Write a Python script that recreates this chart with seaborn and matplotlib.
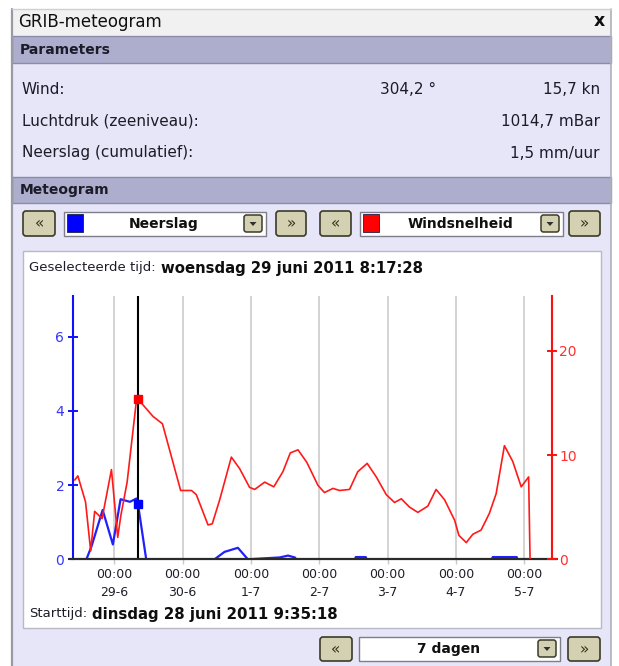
import matplotlib
matplotlib.use("Agg")
import matplotlib.pyplot as plt
from matplotlib.patches import Rectangle, FancyBboxPatch, Polygon
import seaborn as sns

# ---------------- data ----------------
wind_hours = [0.5, 1.6, 4.3, 6.1, 7.5, 10.1, 13.4, 15.6, 16.7, 18.9, 22.2, 22.7,
              24.5, 28.0, 31.3, 37.7, 41.5, 43.2, 47.3, 48.8, 51.4, 55.5, 58.4,
              61.9, 63.7, 67.2, 70.4, 73.6, 76.2, 78.9, 82.0, 85.9, 88.2, 91.2,
              93.5, 97.0, 99.9, 103.2, 106.4, 109.9, 112.8, 115.2, 118.1, 121.0,
              124.5, 127.4, 130.4, 133.9, 135.4, 138.0, 140.3, 143.2, 146.1,
              148.5, 151.4, 154.3, 157.3, 159.9, 160.4]
wind_kn = [7.6, 8.0, 5.5, 0.8, 4.6, 3.9, 8.6, 2.1, 4.2, 7.4, 15.3, 15.4,
           14.8, 13.7, 13.0, 6.6, 6.6, 6.2, 3.3, 3.4, 5.7, 9.8, 8.7,
           6.9, 6.7, 7.4, 6.95, 8.4, 10.2, 10.5, 9.3, 7.1, 6.4, 6.8,
           6.6, 6.7, 8.4, 9.2, 7.9, 6.2, 5.45, 5.8, 5.0, 4.5,
           5.1, 6.7, 5.7, 3.75, 2.3, 1.6, 2.4, 2.8, 4.4,
           6.3, 10.9, 9.4, 6.95, 7.9, 0.0]

precip_hours = [0.0, 4.6, 6.4, 10.3, 13.9, 16.6, 19.9, 22.2, 22.7, 25.6,
                49.6, 53.1, 57.8, 61.3, 72.5, 75.4, 77.8, 78.3,
                98.9, 99.2, 102.7, 103.0, 147.0, 147.3, 155.7, 156.0, 160.4]
precip_mm = [0.0, 0.0, 0.35, 1.33, 0.4, 1.62, 1.55, 1.64, 1.5, 0.0,
             0.0, 0.2, 0.31, 0.0, 0.05, 0.1, 0.05, 0.0,
             0.0, 0.06, 0.06, 0.0, 0.0, 0.06, 0.06, 0.0, 0.0]

day_tick_hours = [14.4, 38.4, 62.4, 86.4, 110.4, 134.4, 158.4]
tick_times = ["00:00", "00:00", "00:00", "00:00", "00:00", "00:00", "00:00"]
tick_dates = ["29-6", "30-6", "1-7", "2-7", "3-7", "4-7", "5-7"]
left_ticks = [0, 2, 4, 6]
right_ticks = [0, 10, 20]

selected_hour = 22.7
selected_wind = 15.4
selected_precip = 1.5

param_labels = ["Wind:", "Luchtdruk (zeeniveau):", "Neerslag (cumulatief):"]
param_mid = ["304,2 °", "", ""]
param_values = ["15,7 kn", "1014,7 mBar", "1,5 mm/uur"]

# ---------------- style ----------------
sns.set_style("white")
plt.rcParams["font.family"] = ["DejaVu Sans"]

W, H = 619, 666
fig = plt.figure(figsize=(W / 100, H / 100), dpi=100)
fig.patch.set_facecolor("white")

bg = fig.add_axes([0, 0, 1, 1])
bg.set_xlim(0, W)
bg.set_ylim(H, 0)
bg.axis("off")

LAV = "#E6E6F8"
HEAD = "#ADADCD"
HEAD_EDGE = "#8C8CAA"
TXT = "#1C1C28"


def rect(x0, y0, x1, y1, fc, ec="none", lw=0, z=1):
    bg.add_patch(Rectangle((x0, y0), x1 - x0, y1 - y0, facecolor=fc,
                           edgecolor=ec, linewidth=lw, zorder=z))


def button(x0, y0, x1, y1, glyph):
    bg.add_patch(FancyBboxPatch((x0, y0), x1 - x0, y1 - y0,
                                boxstyle="round,pad=0,rounding_size=3",
                                fc="#D3D1B1", ec="#3A3A2A", lw=1.2, zorder=3))
    bg.text((x0 + x1) / 2, (y0 + y1) / 2 + 0.5, glyph, ha="center", va="center",
            fontsize=11, color="#34341E", zorder=4)


def dropdown(x0, y0, x1, y1):
    bg.add_patch(FancyBboxPatch((x0, y0), x1 - x0, y1 - y0,
                                boxstyle="round,pad=0,rounding_size=2.5",
                                fc="#D3D1B1", ec="#3A3A2A", lw=1.1, zorder=4))
    cx, cy = (x0 + x1) / 2, (y0 + y1) / 2
    bg.add_patch(Polygon([[cx - 3.5, cy - 1.5], [cx + 3.5, cy - 1.5], [cx, cy + 2.5]],
                         closed=True, fc="#303030", ec="none", zorder=5))


def combo(x0, y0, x1, y1, label, swatch=None):
    rect(x0, y0, x1, y1, "white", ec="#7E7E8A", lw=1, z=3)
    left = x0
    if swatch is not None:
        rect(x0 + 3, y0 + 2, x0 + 19, y0 + 20, swatch, ec="#20204A", lw=0.6, z=4)
        left = x0 + 19
    dd0 = x1 - 22
    dropdown(dd0, y0 + 3, x1 - 4, y1 - 4)
    bg.text((left + dd0) / 2, (y0 + y1) / 2, label, ha="center", va="center",
            fontsize=10, fontweight="bold", color="#101010", zorder=5)


def mixed(x, y, a, b, sa, sb, gap=5):
    t = bg.text(x, y, a, fontsize=sa, va="center", ha="left", color=TXT, zorder=5)
    r = fig.canvas.get_renderer()
    bb = t.get_window_extent(r)
    x1 = bg.transData.inverted().transform((bb.x1, bb.y0))[0]
    bg.text(x1 + gap, y, b, fontsize=sb, fontweight="bold", va="center",
            ha="left", color="#0E0E0E", zorder=5)


# window body
rect(12, 9, 611, 666, LAV)
rect(12, 9, 611, 36, "#F1F1F1")
rect(12, 36, 611, 63, HEAD, ec=HEAD_EDGE, lw=1)
rect(12, 177, 611, 203, HEAD, ec=HEAD_EDGE, lw=1)
bg.plot([12, 12], [9, 666], color="#9A9AA4", lw=1.6, zorder=2)
bg.plot([611, 611], [9, 666], color="#B0B0BC", lw=1.2, zorder=2)
bg.plot([12, 611], [9, 9], color="#D0D0D0", lw=1, zorder=2)

bg.text(18, 22, "GRIB-meteogram", fontsize=12, va="center", color="#101010")
bg.text(599, 21, "x", fontsize=12.5, fontweight="bold", va="center", ha="center",
        color="#101010")
bg.text(20, 50, "Parameters", fontsize=10, fontweight="bold", va="center", color=TXT)
bg.text(20, 190, "Meteogram", fontsize=10, fontweight="bold", va="center", color=TXT)

for i, (lab, mid, val) in enumerate(zip(param_labels, param_mid, param_values)):
    yy = 90 + i * 31.5
    bg.text(22, yy, lab, fontsize=11, va="center", color=TXT)
    if mid:
        bg.text(380, yy, mid, fontsize=11, va="center", color=TXT)
    bg.text(600, yy, val, fontsize=11, va="center", ha="right", color=TXT)

# selector row
button(23, 211, 55, 236, "«")
combo(64, 212, 266, 236, "Neerslag", swatch="#0000FF")
button(276, 211, 306, 236, "»")
button(320, 211, 351, 236, "«")
combo(360, 212, 563, 236, "Windsnelheid", swatch="#FF0000")
button(569, 211, 600, 236, "»")

# chart box
rect(22.5, 251, 601, 628, "white", ec="#B8B8C8", lw=1, z=2)
mixed(29, 268, "Geselecteerde tijd:", "woensdag 29 juni 2011 8:17:28", 9.5, 10.7)
mixed(29, 614, "Starttijd:", "dinsdag 28 juni 2011 9:35:18", 9.5, 10.8)

# bottom row
button(320, 637, 352, 661, "«")
combo(359, 637, 560, 661, "7 dagen")
button(568, 637, 600, 661, "»")

# ---------------- chart ----------------
x_left, x_right, y_top, y_bot = 73.3, 551.7, 296.0, 559.3
ax = fig.add_axes([x_left / W, 1 - y_bot / H, (x_right - x_left) / W, (y_bot - y_top) / H])
ax.patch.set_alpha(0)
ax.set_zorder(5)

sns.lineplot(x=precip_hours, y=precip_mm, ax=ax, color="#2020FF", lw=1.6,
             estimator=None, sort=False, zorder=3)
ax.axvline(selected_hour, color="black", lw=1.5, zorder=4)
ax.plot([selected_hour], [selected_precip], marker="s", ms=5.5, color="#0000FF",
        zorder=6, lw=0)
ax.axhline(0, xmin=-0.009, xmax=1.011, color="#2A2A2A", lw=1.6, clip_on=False, zorder=5)

ax.set_xlim(0, 168)
ax.set_ylim(0, 7.1)
ax.set_xticks(day_tick_hours,
              labels=[f"{t}\n{d}" for t, d in zip(tick_times, tick_dates)])
ax.set_yticks(left_ticks, labels=[str(v) for v in left_ticks])
ax.grid(axis="x", color="#C8C8C8", lw=1.1)
ax.grid(axis="y", visible=False)
ax.set_axisbelow(True)
ax.tick_params(axis="x", length=3.5, width=1, color="#C8C8C8", labelsize=9,
               labelcolor="#1E1E28", pad=3, bottom=True)
ax.tick_params(axis="y", direction="inout", length=7.2, width=1.4, color="#1010FF",
               labelcolor="#3535FF", pad=2.9, labelsize=10, left=True)
for lbl in ax.get_xticklabels():
    lbl.set_linespacing(1.45)
for s in ["top", "right", "bottom"]:
    ax.spines[s].set_visible(False)
ax.spines["left"].set_color("#1010FF")
ax.spines["left"].set_linewidth(1.5)
ax.set_xlabel("")
ax.set_ylabel("")

ax2 = ax.twinx()
sns.lineplot(x=wind_hours, y=wind_kn, ax=ax2, color="#FF1A1A", lw=1.2,
             estimator=None, sort=False, zorder=3)
ax2.plot([selected_hour], [selected_wind], marker="s", ms=5.5, color="#FF0000",
         zorder=6, lw=0)
ax2.set_ylim(0, 25.25)
ax2.set_yticks(right_ticks, labels=[str(v) for v in right_ticks])
ax2.tick_params(axis="y", direction="inout", length=7.9, width=1.4, color="#FF1010",
                labelcolor="#FF3030", pad=1.5, labelsize=10, right=True)
for s in ["top", "left", "bottom"]:
    ax2.spines[s].set_visible(False)
ax2.spines["right"].set_color("#FF1010")
ax2.spines["right"].set_linewidth(1.5)
ax2.set_ylabel("")
ax2.grid(False)

fig.savefig("out.png", dpi=100)
